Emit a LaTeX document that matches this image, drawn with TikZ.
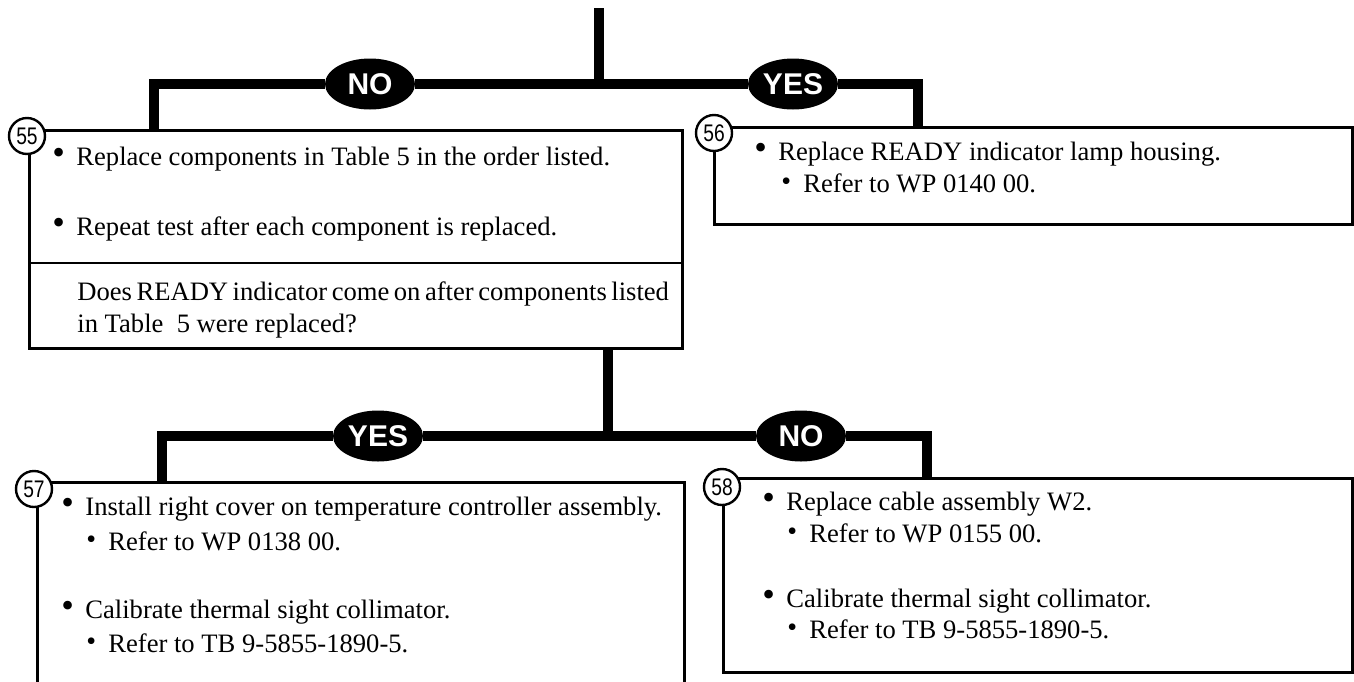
\documentclass[tikz,border=0pt]{standalone}
\usepackage{fontspec}
\setmainfont{Liberation Serif}
\newfontfamily\labelfont{Liberation Sans}
\usetikzlibrary{shapes.geometric,calc}
\newcommand\bul{\makebox[12pt][l]{\raisebox{0.3pt}{\fontsize{18}{18}\selectfont\textbullet}}}
\newcommand\sbul{\makebox[11pt][l]{\raisebox{0.6pt}{\fontsize{14}{14}\selectfont\textbullet}}}
\begin{document}
\begin{tikzpicture}[x=0.5pt,y=-0.5pt,
  box/.style={draw,line width=1.3pt,rectangle,inner sep=0pt,anchor=north west},
  conn/.style={line width=5pt,line join=miter},
  tag/.style={ellipse,fill=black,text=white,inner sep=0pt,minimum width=45pt,minimum height=25.5pt,font=\labelfont\bfseries\fontsize{15}{15}\selectfont},
  num/.style={circle,draw,line width=1.2pt,fill=white,minimum size=18pt,inner sep=0pt,font=\labelfont\fontsize{12}{12}\selectfont},
  txt/.style={anchor=base west,inner sep=0pt,font=\fontsize{13.3}{13.3}\selectfont},
]
\useasboundingbox (0,0) rectangle (1354,681);

% boxes
\node[box,minimum width=326.5pt,minimum height=109pt] (b55) at (28,129) {};
\coordinate (d55) at (28,263);
\draw[line width=1.3pt] (d55) -- (d55 -| b55.east);
\node[box,minimum width=319pt,minimum height=48.5pt] (b56) at (713,126) {};
\node[box,minimum width=323.5pt,minimum height=110pt] (b57) at (36,481) {};
\node[box,minimum width=314.5pt,minimum height=97pt] (b58) at (722,477) {};

% yes/no tags
\node[tag] (no1) at (370,84) {NO};
\node[tag] (yes1) at (793,84) {YES};
\node[tag] (yes2) at (378,436) {YES};
\node[tag] (no2) at (801,436) {NO};

% connectors
\coordinate (top) at (599,8);
\coordinate (j1) at (599,85);
\draw[conn] (top) -- (j1);
\draw[conn] ($(b55.north west)+(126,0)$) |- (no1) -- (yes1) -| ($(b56.north west)+(205,0)$);
\coordinate (j2) at (608,437);
\draw[conn] (b55.south -| j2) -- (j2);
\draw[conn] ($(b57.north west)+(126,0)$) |- (yes2) -- (no2) -| ($(b58.north west)+(205,0)$);

% step numbers
\node[num] (n55) at (27,136) {\scalebox{0.8}[1]{55}};
\node[num] (n56) at (714,133) {\scalebox{0.8}[1]{56}};
\node[num] (n57) at (34,489) {\scalebox{0.8}[1]{57}};
\node[num] (n58) at (722,487) {\scalebox{0.8}[1]{58}};

% texts box 55
\node[txt] (t55a) at (52,165) {\bul Replace components in Table 5 in the order listed.};
\node[txt] (t55b) at (52,235) {\bul Repeat test after each component is replaced.};
\node[txt] (t55c) at (77,300) {\spaceskip=0.17em Does READY indicator come on after components listed};
\node[txt] (t55d) at (77,332) {in Table\ \ 5 were replaced?};

% texts box 56
\node[txt] (t56a) at (754,160) {\bul Replace READY indicator lamp housing.};
\node[txt] (t56b) at (781,192) {\sbul Refer to WP 0140 00.};

% texts box 57
\node[txt] (t57a) at (61,515) {\bul Install right cover on temperature controller assembly.};
\node[txt] (t57b) at (86,550) {\sbul Refer to WP 0138 00.};
\node[txt] (t57c) at (61,618) {\bul Calibrate thermal sight collimator.};
\node[txt] (t57d) at (86,652) {\sbul Refer to TB 9-5855-1890-5.};

% texts box 58
\node[txt] (t58a) at (762,510) {\bul Replace cable assembly W2.};
\node[txt] (t58b) at (787,542) {\sbul Refer to WP 0155 00.};
\node[txt] (t58c) at (762,607) {\bul Calibrate thermal sight collimator.};
\node[txt] (t58d) at (787,638) {\sbul Refer to TB 9-5855-1890-5.};
\end{tikzpicture}
\end{document}
